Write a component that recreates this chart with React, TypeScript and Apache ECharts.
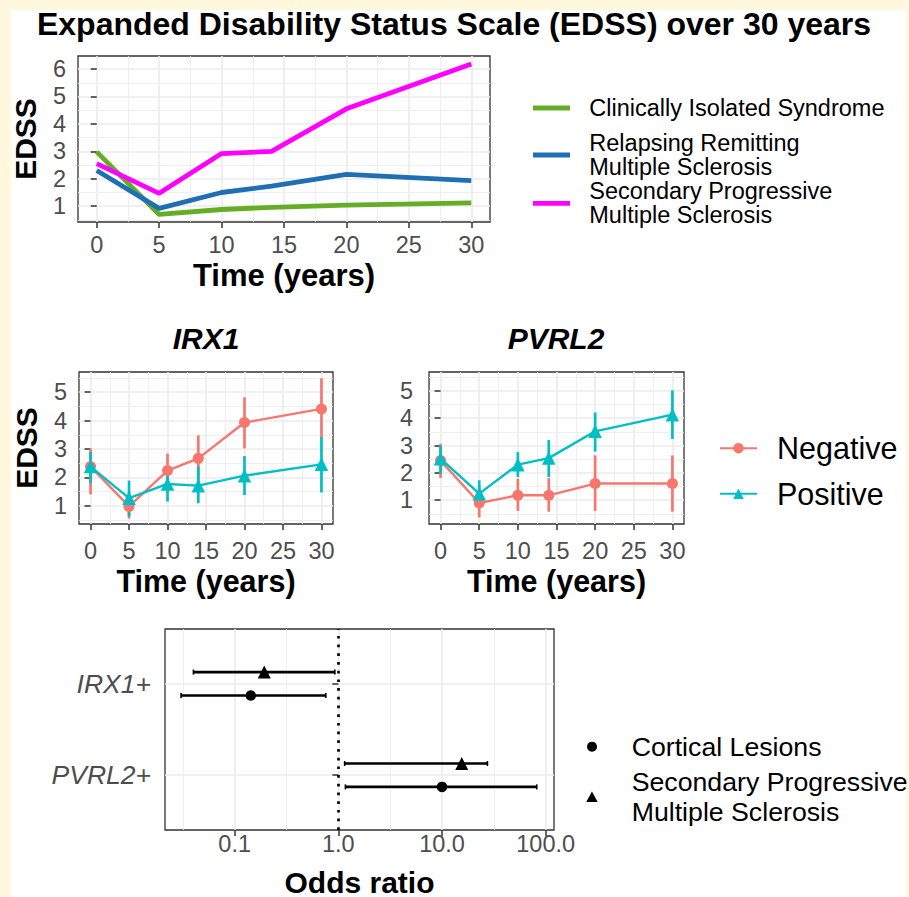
import React, { useEffect, useRef } from 'react';
import * as echarts from 'echarts';

const FONT = '"Liberation Sans", Arial, Helvetica, sans-serif';

// ---------- Top panel: EDSS over 30 years ----------
const timeYears = [0, 5, 10, 14, 20, 30];
const cisEdss = [2.98, 0.70, 0.88, 0.96, 1.04, 1.12];
const rrmsEdss = [2.30, 0.92, 1.50, 1.73, 2.16, 1.93];
const spmsEdss = [2.55, 1.47, 2.92, 3.00, 4.55, 6.18];
const topSeriesNames = [
  'Clinically Isolated Syndrome',
  'Relapsing Remitting\nMultiple Sclerosis',
  'Secondary Progressive\nMultiple Sclerosis',
];
const topColors = ['#66AD25', '#1F6FB4', '#FF00FF'];

// ---------- Ticks ----------
const timeTicks = [0, 5, 10, 15, 20, 25, 30];
const timeMinorTicks = [2.5, 7.5, 12.5, 17.5, 22.5, 27.5];
const topEdssTicks = [1, 2, 3, 4, 5, 6];
const midEdssTicks = [1, 2, 3, 4, 5];
const edssMinorTicks = [0.5, 1.5, 2.5, 3.5, 4.5, 5.5];

// ---------- IRX1 ----------
const irx1NegMean = [2.38, 0.98, 2.24, 2.67, 3.93, 4.41];
const irx1NegLow = [1.40, 0.55, 1.65, 1.85, 3.02, 3.37];
const irx1NegHigh = [3.02, 1.50, 2.84, 3.48, 4.82, 5.49];
const irx1PosMean = [2.38, 1.27, 1.77, 1.71, 2.06, 2.46];
const irx1PosLow = [1.80, 0.63, 1.15, 1.09, 1.38, 1.47];
const irx1PosHigh = [2.90, 1.89, 2.28, 2.38, 2.75, 3.42];

// ---------- PVRL2 ----------
const pvrl2NegMean = [2.45, 0.90, 1.18, 1.18, 1.61, 1.61];
const pvrl2NegLow = [1.81, 0.37, 0.61, 0.58, 0.61, 0.58];
const pvrl2NegHigh = [3.06, 1.50, 1.79, 1.81, 2.64, 2.64];
const pvrl2PosMean = [2.52, 1.24, 2.30, 2.54, 3.52, 4.13];
const pvrl2PosLow = [1.97, 0.76, 1.85, 1.85, 2.78, 3.24];
const pvrl2PosHigh = [3.00, 1.73, 2.76, 3.20, 4.21, 5.02];

const NEG = '#F8766D';
const POS = '#00BFC4';

// ---------- Forest plot (odds ratios) ----------
const orCategories = ['PVRL2+', 'IRX1+'];
const corticalOR = [10.0, 0.143];
const corticalLow = [1.17, 0.0304];
const corticalHigh = [82.0, 0.757];
const spmsOR = [15.5, 0.193];
const spmsLow = [1.15, 0.040];
const spmsHigh = [27.4, 0.925];
const orTicks = [0.1, 1, 10, 100];
const orTickLabels = ['0.1', '1.0', '10.0', '100.0'];
const orMinorLog = [-1.5, -0.5, 0.5, 1.5];
const DODGE = 0.128;

const log10 = (v: number) => Math.log10(v);
const orTicksLog = orTicks.map(log10);

const tickLabel = { color: '#4D4D4D', fontSize: 23.5, fontFamily: FONT };
const tickStyle = { show: true, length: 6, lineStyle: { color: '#333333', width: 1.5 } };
const majorSplit = { show: true, lineStyle: { color: '#EBEBEB', width: 1.6 } };
const minorSplit = { show: true, lineStyle: { color: '#EBEBEB', width: 0.8 } };
const nameStyle = (size: number) => ({ fontSize: size, fontWeight: 'bold', color: '#000', fontFamily: FONT });

function majorAxis(gridIndex: number, min: number, max: number, ticks: number[], margin: number, extra: any = {}) {
  return {
    type: 'value', gridIndex, min, max,
    axisLine: { show: false },
    axisTick: { ...tickStyle, customValues: ticks },
    axisLabel: { ...tickLabel, customValues: ticks, margin, ...(extra.axisLabel || {}) },
    splitLine: majorSplit,
    minorSplitLine: { show: false },
    ...extra.rest,
  };
}
function minorAxis(gridIndex: number, min: number, max: number, ticks: number[]) {
  return {
    type: 'value', gridIndex, min, max,
    axisLine: { show: false },
    axisTick: { show: false, customValues: ticks },
    axisLabel: { show: false },
    splitLine: minorSplit,
  };
}

const vErr = (color: string) => (params: any, api: any) => {
  const x = api.value(0);
  const p1 = api.coord([x, api.value(1)]);
  const p2 = api.coord([x, api.value(2)]);
  return {
    type: 'line',
    shape: { x1: p1[0], y1: p1[1], x2: p2[0], y2: p2[1] },
    style: { stroke: color, lineWidth: 2.7 },
  };
};
const hErr = (params: any, api: any) => {
  const y = api.value(0);
  const a = api.coord([api.value(1), y]);
  const b = api.coord([api.value(2), y]);
  const st = { stroke: '#000', lineWidth: 2.6 };
  return {
    type: 'group',
    children: [
      { type: 'line', shape: { x1: a[0], y1: a[1], x2: b[0], y2: b[1] }, style: st },
      { type: 'line', shape: { x1: a[0], y1: a[1] - 2.5, x2: a[0], y2: a[1] + 2.5 }, style: { ...st, lineWidth: 1.6 } },
      { type: 'line', shape: { x1: b[0], y1: b[1] - 2.5, x2: b[0], y2: b[1] + 2.5 }, style: { ...st, lineWidth: 1.6 } },
    ],
  };
};

function midSeries(xi: number, mean: number[], low: number[], high: number[], name: string, color: string, symbol: string, size: number) {
  return [
    {
      type: 'custom', name: name + ' CI', xAxisIndex: xi, yAxisIndex: xi, z: 2,
      data: timeYears.map((t, i) => [t, low[i], high[i]]),
      encode: { x: 0, y: [1, 2] },
      renderItem: vErr(color),
    },
    {
      type: 'line', name, xAxisIndex: xi, yAxisIndex: xi, z: 3,
      data: timeYears.map((t, i) => [t, mean[i]]),
      symbol, symbolSize: size, showAllSymbol: true,
      itemStyle: { color }, lineStyle: { color, width: 2.4 },
    },
  ];
}

function buildOption() {
  const grids = [
    { left: 78, top: 56, width: 412, height: 166 },
    { left: 79, top: 372, width: 254, height: 152 },
    { left: 429, top: 372, width: 255, height: 152 },
    { left: 165, top: 629, width: 389, height: 201 },
  ].map((g) => ({
    ...g, show: true, borderColor: '#333333', borderWidth: 1.3, backgroundColor: '#FFFFFF',
    containLabel: false, outerBoundsMode: 'none',
  }));

  const xAxis = [
    majorAxis(0, -1.5, 31.5, timeTicks, 11, {
      rest: { name: 'Time (years)', nameLocation: 'middle', nameGap: 38, nameTextStyle: nameStyle(31) },
    }),
    minorAxis(0, -1.5, 31.5, timeMinorTicks),
    majorAxis(1, -1.5, 31.5, timeTicks, 15, {
      rest: { name: 'Time (years)', nameLocation: 'middle', nameGap: 41, nameTextStyle: nameStyle(30.5) },
    }),
    minorAxis(1, -1.5, 31.5, timeMinorTicks),
    majorAxis(2, -1.5, 31.5, timeTicks, 15, {
      rest: { name: 'Time (years)', nameLocation: 'middle', nameGap: 41, nameTextStyle: nameStyle(30.5) },
    }),
    minorAxis(2, -1.5, 31.5, timeMinorTicks),
    majorAxis(3, -1.672, 2.08, orTicksLog, 2, {
      axisLabel: {
        formatter: (v: number) => {
          const i = orTicksLog.findIndex((t) => Math.abs(t - v) < 1e-6);
          return i >= 0 ? orTickLabels[i] : '';
        },
      },
      rest: { name: 'Odds ratio', nameLocation: 'middle', nameGap: 37, nameTextStyle: nameStyle(30) },
    }),
    minorAxis(3, -1.672, 2.08, orMinorLog),
  ];

  const yAxis = [
    majorAxis(0, 0.425, 6.475, topEdssTicks, 12, {
      rest: { name: 'EDSS', nameLocation: 'middle', nameGap: 38, nameRotate: 90, nameTextStyle: nameStyle(30) },
    }),
    minorAxis(0, 0.425, 6.475, edssMinorTicks),
    majorAxis(1, 0.36, 5.71, midEdssTicks, 12, {
      rest: { name: 'EDSS', nameLocation: 'middle', nameGap: 38, nameRotate: 90, nameTextStyle: nameStyle(30) },
    }),
    minorAxis(1, 0.36, 5.71, edssMinorTicks),
    majorAxis(2, 0.13, 5.69, midEdssTicks, 16),
    minorAxis(2, 0.13, 5.69, edssMinorTicks),
    majorAxis(3, 0.4, 2.6, [1, 2], 14, {
      axisLabel: {
        formatter: (v: number) => orCategories[Math.round(v) - 1] || '',
        fontStyle: 'italic', fontSize: 26.5,
      },
    }),
  ];

  const topData = [cisEdss, rrmsEdss, spmsEdss];
  const topSeries = topData.map((vals, k) => ({
    type: 'line', name: topSeriesNames[k], xAxisIndex: 0, yAxisIndex: 0, z: 3,
    data: timeYears.map((t, i) => [t, vals[i]]),
    symbol: 'none',
    itemStyle: { color: topColors[k] },
    lineStyle: { color: topColors[k], width: 4.8 },
  }));

  const forestSeries = [
    {
      type: 'custom', name: 'Cortical CI', xAxisIndex: 6, yAxisIndex: 6, z: 2,
      data: orCategories.map((c, i) => [i + 1 - DODGE, log10(corticalLow[i]), log10(corticalHigh[i])]),
      encode: { x: [1, 2], y: 0 },
      renderItem: hErr,
    },
    {
      type: 'custom', name: 'SPMS CI', xAxisIndex: 6, yAxisIndex: 6, z: 2,
      data: orCategories.map((c, i) => [i + 1 + DODGE, log10(spmsLow[i]), log10(spmsHigh[i])]),
      encode: { x: [1, 2], y: 0 },
      renderItem: hErr,
    },
    {
      type: 'scatter', name: 'Cortical Lesions', xAxisIndex: 6, yAxisIndex: 6, z: 3,
      data: orCategories.map((c, i) => [log10(corticalOR[i]), i + 1 - DODGE]),
      symbol: 'circle', symbolSize: 10.5, itemStyle: { color: '#000', opacity: 1 },
      markLine: {
        silent: true, symbol: ['none', 'none'], label: { show: false },
        lineStyle: { color: '#000', width: 2.7, type: [2.7, 6] },
        data: [{ xAxis: log10(1) }],
      },
    },
    {
      type: 'scatter', name: 'Secondary Progressive\nMultiple Sclerosis ', xAxisIndex: 6, yAxisIndex: 6, z: 3,
      data: orCategories.map((c, i) => [log10(spmsOR[i]), i + 1 + DODGE]),
      symbol: 'triangle', symbolSize: 13, itemStyle: { color: '#000', opacity: 1 },
    },
  ];

  const legendText = (size: number, lh: number, padLeft: number) => ({
    color: '#000', fontSize: size, lineHeight: lh, fontFamily: FONT, padding: [0, 0, 0, padLeft],
  });

  const topLegend = (k: number, top: number) => ({
    orient: 'vertical', left: 533, top, padding: 0, selectedMode: false,
    icon: 'rect', itemWidth: 37, itemHeight: 4.8,
    data: [topSeriesNames[k]],
    textStyle: legendText(23.5, 24, 14.3),
  });

  return {
    animation: false,
    backgroundColor: '#FFF8DC',
    textStyle: { fontFamily: FONT },
    graphic: [
      { type: 'rect', z: -100, silent: true, shape: { x: 11, y: 10, width: 895, height: 887 }, style: { fill: '#FFFFFF' } },
      {
        type: 'text', x: 454, y: 24, silent: true,
        style: { text: 'Expanded Disability Status Scale (EDSS) over 30 years', font: `bold 32px ${FONT}`, fill: '#000', align: 'center', verticalAlign: 'middle' },
      },
      {
        type: 'text', x: 206, y: 338, silent: true,
        style: { text: 'IRX1', font: `italic bold 30px ${FONT}`, fill: '#000', align: 'center', verticalAlign: 'middle' },
      },
      {
        type: 'text', x: 556, y: 338, silent: true,
        style: { text: 'PVRL2', font: `italic bold 30px ${FONT}`, fill: '#000', align: 'center', verticalAlign: 'middle' },
      },
    ],
    grid: grids,
    xAxis,
    yAxis,
    legend: [
      topLegend(0, 96),
      topLegend(1, 131),
      topLegend(2, 179.3),
      {
        orient: 'vertical', left: 719, top: 432.7, padding: 0, selectedMode: false,
        itemWidth: 37, itemHeight: 13, itemGap: 14.6,
        data: ['Negative', 'Positive'],
        textStyle: legendText(30.5, 30, 15),
      },
      {
        orient: 'vertical', left: 587, top: 731.7, padding: 0, selectedMode: false,
        itemWidth: 10, itemHeight: 10,
        data: ['Cortical Lesions'],
        textStyle: legendText(26.7, 30, 29.7),
      },
      {
        orient: 'vertical', left: 586.2, top: 766.7, padding: 0, selectedMode: false,
        itemWidth: 11.5, itemHeight: 10.5,
        data: ['Secondary Progressive\nMultiple Sclerosis '],
        textStyle: legendText(26.7, 30, 29),
      },
    ],
    series: [
      ...topSeries,
      ...midSeries(2, irx1NegMean, irx1NegLow, irx1NegHigh, 'Negative', NEG, 'circle', 11),
      ...midSeries(2, irx1PosMean, irx1PosLow, irx1PosHigh, 'Positive', POS, 'triangle', 13.5),
      ...midSeries(4, pvrl2NegMean, pvrl2NegLow, pvrl2NegHigh, 'Negative', NEG, 'circle', 11),
      ...midSeries(4, pvrl2PosMean, pvrl2PosLow, pvrl2PosHigh, 'Positive', POS, 'triangle', 13.5),
      ...forestSeries,
    ],
  };
}

export default function App() {
  const ref = useRef<HTMLDivElement>(null);
  useEffect(() => {
    if (!ref.current) return;
    const chart = echarts.init(ref.current, null, { renderer: 'svg' });
    chart.setOption(buildOption() as any);
    return () => chart.dispose();
  }, []);
  return <div ref={ref} style={{ position: 'absolute', left: 0, top: 0, width: 909, height: 897 }} />;
}
